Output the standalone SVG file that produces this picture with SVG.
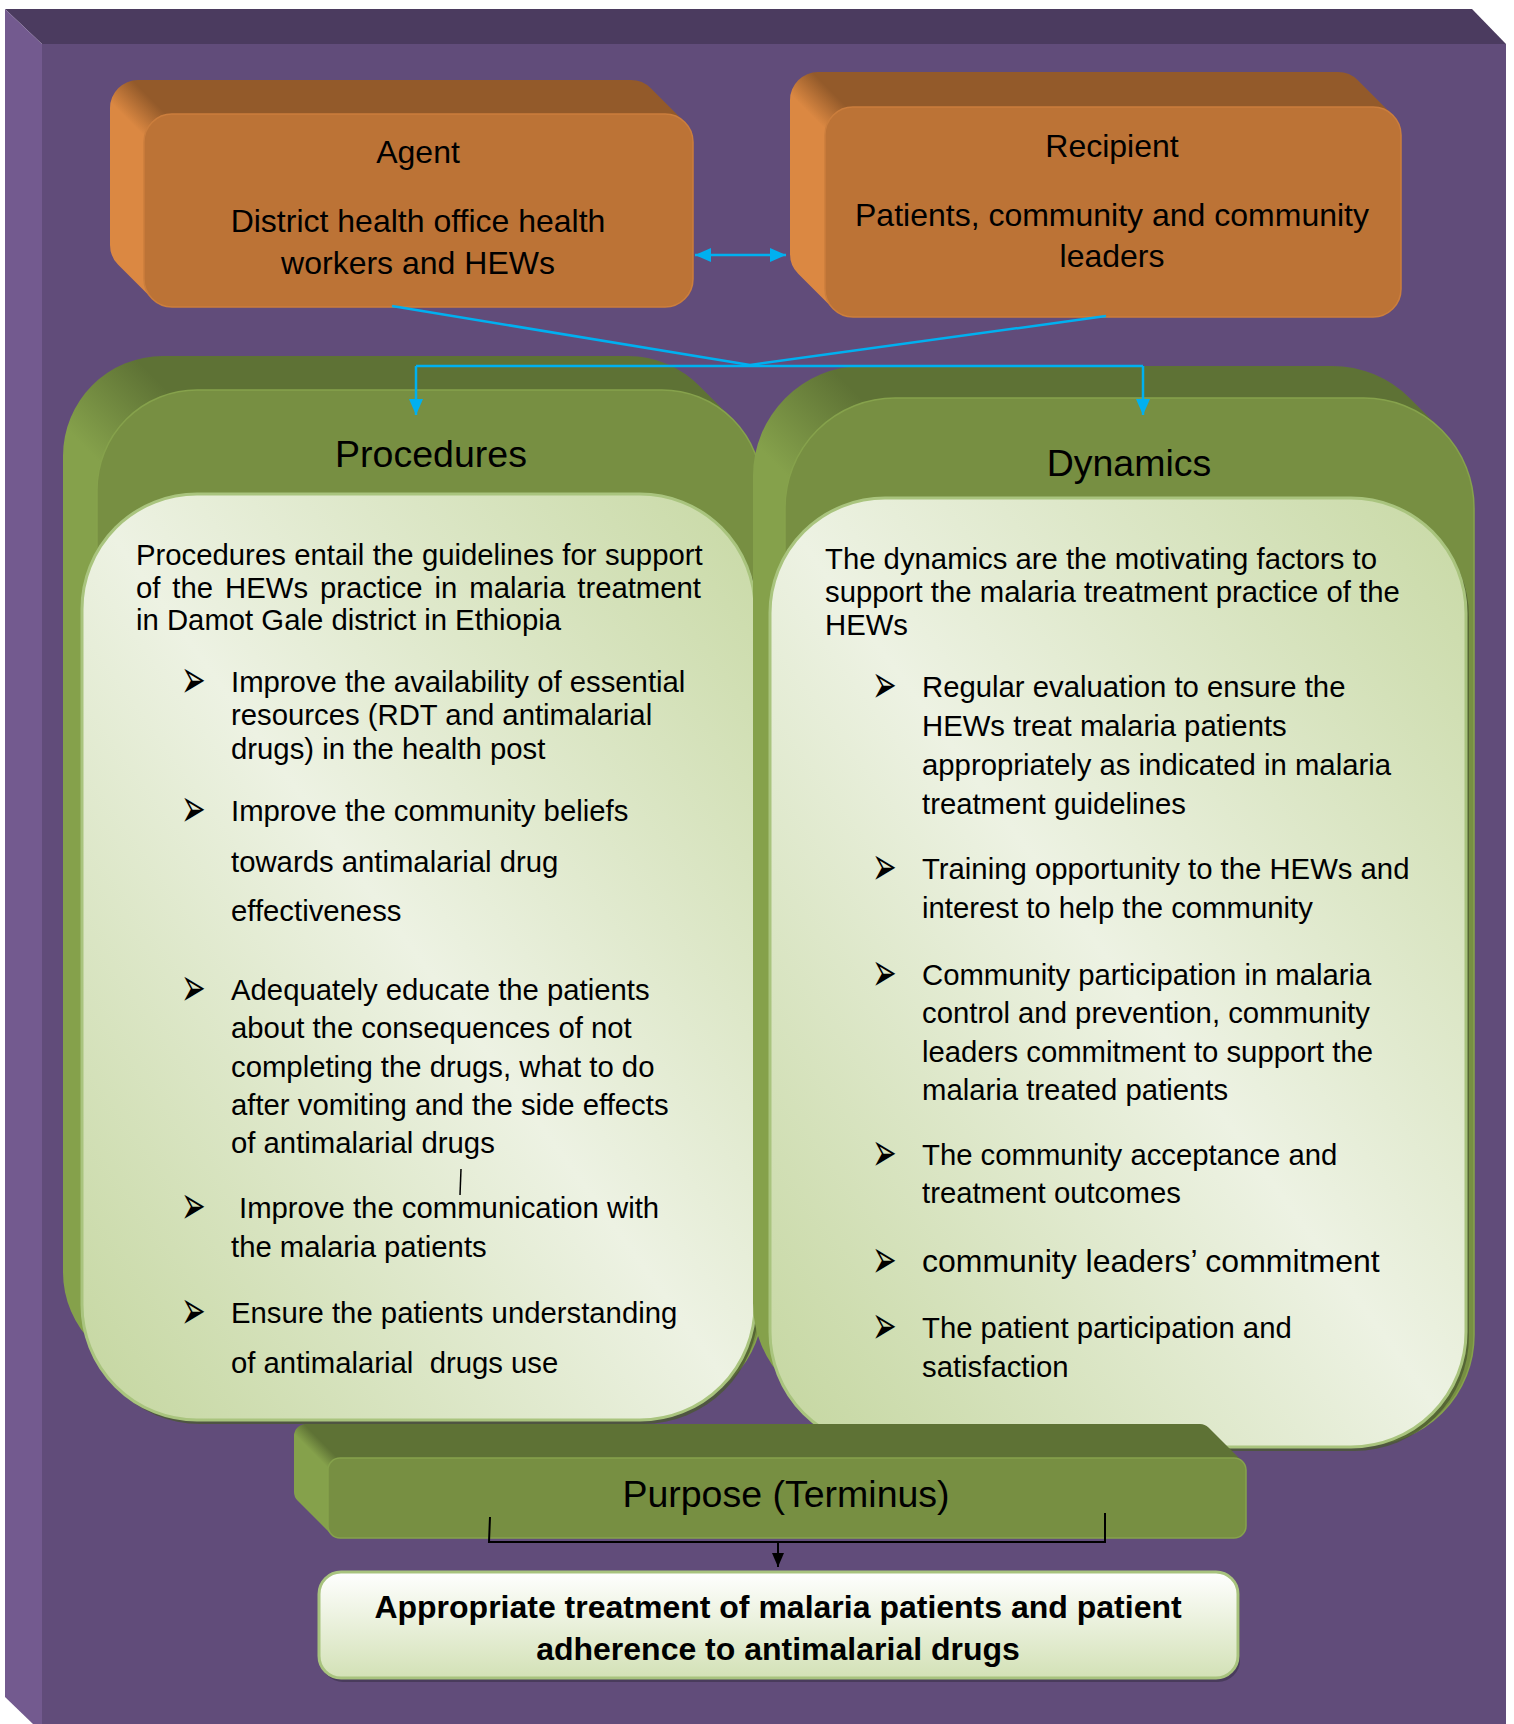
<svg xmlns="http://www.w3.org/2000/svg" width="1514" height="1724" viewBox="0 0 1514 1724">
<style>
.t{font-family:"Liberation Sans",Arial,sans-serif;fill:#000;}
.body{font-size:29.3px;}
.hdr{font-size:37.5px;text-anchor:middle;}
.box{font-size:32px;text-anchor:middle;}
.res{font-size:32px;font-weight:bold;text-anchor:middle;}
.bul{font-family:"DejaVu Sans",sans-serif;font-size:44px;fill:#000;}
.oFront{fill:#BC7336;stroke:#CB7E3D;stroke-width:1.5;}
.gFront{fill:#778F42;stroke:#86A24C;stroke-width:1.5;}
.panel{fill:url(#panelG);stroke:#A9C47E;stroke-width:3;}
.shadow{fill:#4A5830;opacity:0.75;}
.cy{stroke:#00B0F0;stroke-width:2.5;fill:none;}
.bk{stroke:#000;stroke-width:2;fill:none;}
</style>
<defs>
<linearGradient id="gA" gradientUnits="userSpaceOnUse" x1="107.2" y1="99.2" x2="129.2" y2="77.2">
<stop offset="0" stop-color="#DB8842"/><stop offset="1" stop-color="#935A2A"/>
</linearGradient>
<linearGradient id="gR" gradientUnits="userSpaceOnUse" x1="787.2" y1="91.2" x2="809.2" y2="69.2">
<stop offset="0" stop-color="#DB8842"/><stop offset="1" stop-color="#935A2A"/>
</linearGradient>
<linearGradient id="gP" gradientUnits="userSpaceOnUse" x1="57.3" y1="420.3" x2="127.3" y2="350.3">
<stop offset="0" stop-color="#85A14B"/><stop offset="1" stop-color="#5E7235"/>
</linearGradient>
<linearGradient id="gD" gradientUnits="userSpaceOnUse" x1="747.2" y1="436.2" x2="823.2" y2="360.2">
<stop offset="0" stop-color="#85A14B"/><stop offset="1" stop-color="#5E7235"/>
</linearGradient>
<linearGradient id="gU" gradientUnits="userSpaceOnUse" x1="292.5" y1="1432.5" x2="302.5" y2="1422.5">
<stop offset="0" stop-color="#85A14B"/><stop offset="1" stop-color="#5E7235"/>
</linearGradient>
<linearGradient id="panelG" x1="0" y1="1" x2="1" y2="0">
<stop offset="0" stop-color="#C4D69F"/><stop offset="0.5" stop-color="#EDF2E3"/><stop offset="1" stop-color="#C8D9A5"/>
</linearGradient>
<linearGradient id="resG" x1="0" y1="0" x2="0" y2="1">
<stop offset="0" stop-color="#FFFFFF"/><stop offset="1" stop-color="#D3E1B6"/>
</linearGradient>
<marker id="cyHead" viewBox="0 0 16 14" refX="16" refY="7" markerWidth="16" markerHeight="14" markerUnits="userSpaceOnUse" orient="auto-start-reverse">
<path d="M0,0 L16,7 L0,14 z" fill="#00B0F0"/>
</marker>
<marker id="bkHead" viewBox="0 0 14 12" refX="14" refY="6" markerWidth="14" markerHeight="12" markerUnits="userSpaceOnUse" orient="auto">
<path d="M0,0 L14,6 L0,12 z" fill="#000"/>
</marker>
<clipPath id="cpAgent">
<rect x="110" y="80" width="549" height="193" rx="28"/>
<rect x="144" y="114" width="549" height="193" rx="28"/>
<polygon points="650.8,88.2 684.8,122.2 152.2,298.8 118.2,264.8"/>
</clipPath>
<clipPath id="cpRecip">
<rect x="790" y="72" width="576" height="210" rx="28"/>
<rect x="825" y="107" width="576" height="210" rx="28"/>
<polygon points="1357.8,80.2 1392.8,115.2 833.2,308.8 798.2,273.8"/>
</clipPath>
<clipPath id="cpProc">
<rect x="63" y="356" width="665" height="1016" rx="100"/>
<rect x="97" y="390" width="665" height="1016" rx="100"/>
<polygon points="698.7,385.3 732.7,419.3 126.3,1376.7 92.3,1342.7"/>
</clipPath>
<clipPath id="cpDyn">
<rect x="753" y="366" width="689" height="1047" rx="110"/>
<rect x="785" y="398" width="689" height="1047" rx="110"/>
<polygon points="1409.8,398.2 1441.8,430.2 817.2,1412.8 785.2,1380.8"/>
</clipPath>
<clipPath id="cpPurp">
<rect x="294" y="1424" width="918" height="80" rx="12"/>
<rect x="328" y="1458" width="918" height="80" rx="12"/>
<polygon points="1208.5,1427.5 1242.5,1461.5 331.5,1534.5 297.5,1500.5"/>
</clipPath>
</defs>

<rect x="0" y="0" width="1514" height="1724" fill="#FFFFFF"/>
<g id="frame">
<rect x="42" y="44" width="1464" height="1680" fill="#614C7A"/>
<polygon points="5,9 1472,9 1506,44 42,44" fill="#4B3B5F"/>
<polygon points="5,9 42,44 42,1724 33,1724 5,1697" fill="#735A8F"/>
</g>

<g id="agent">
<rect x="100" y="70" width="620" height="260" fill="url(#gA)" clip-path="url(#cpAgent)"/>
<rect x="144" y="114" width="549" height="193" rx="28" class="oFront"/>
<text class="t box" x="418" y="163">Agent</text>
<text class="t box" x="418" y="232">District health office health</text>
<text class="t box" x="418" y="274">workers and HEWs</text>
</g>

<g id="recipient">
<rect x="780" y="60" width="640" height="270" fill="url(#gR)" clip-path="url(#cpRecip)"/>
<rect x="825" y="107" width="576" height="210" rx="28" class="oFront"/>
<text class="t box" x="1112" y="157">Recipient</text>
<text class="t box" x="1112" y="226">Patients, community and community</text>
<text class="t box" x="1112" y="267">leaders</text>
</g>

<g id="procedures">
<rect x="50" y="340" width="730" height="1080" fill="url(#gP)" clip-path="url(#cpProc)"/>
<rect x="97" y="390" width="665" height="1016" rx="100" class="gFront"/>
<text class="t hdr" x="431" y="467">Procedures</text>
<rect x="85" y="498" width="673" height="926" rx="115" class="shadow"/>
<rect x="82" y="494" width="673" height="926" rx="115" class="panel"/>
<text class="t body" x="136" y="565" word-spacing="0.3">Procedures entail the guidelines for support</text>
<text class="t body" x="136" y="598" word-spacing="3.8">of the HEWs practice in malaria treatment</text>
<text class="t body" x="136" y="630">in Damot Gale district in Ethiopia</text>
<text class="bul" transform="translate(181,698) scale(0.67,1.25)">➢</text>
<text class="t body" x="231" y="692">Improve the availability of essential</text>
<text class="t body" x="231" y="725">resources (RDT and antimalarial</text>
<text class="t body" x="231" y="759">drugs) in the health post</text>
<text class="bul" transform="translate(181,827) scale(0.67,1.25)">➢</text>
<text class="t body" x="231" y="821">Improve the community beliefs</text>
<text class="t body" x="231" y="872">towards antimalarial drug</text>
<text class="t body" x="231" y="921">effectiveness</text>
<text class="bul" transform="translate(181,1006) scale(0.67,1.25)">➢</text>
<text class="t body" x="231" y="1000">Adequately educate the patients</text>
<text class="t body" x="231" y="1038">about the consequences of not</text>
<text class="t body" x="231" y="1077">completing the drugs, what to do</text>
<text class="t body" x="231" y="1115">after vomiting and the side effects</text>
<text class="t body" x="231" y="1153">of antimalarial drugs</text>
<text class="bul" transform="translate(181,1224) scale(0.67,1.25)">➢</text>
<text class="t body" x="239" y="1218">Improve the communication with</text>
<text class="t body" x="231" y="1257">the malaria patients</text>
<text class="bul" transform="translate(181,1329) scale(0.67,1.25)">➢</text>
<text class="t body" x="231" y="1323">Ensure the patients understanding</text>
<text class="t body" x="231" y="1373" xml:space="preserve">of antimalarial  drugs use</text>
</g>

<g id="dynamics">
<rect x="740" y="350" width="750" height="1110" fill="url(#gD)" clip-path="url(#cpDyn)"/>
<rect x="785" y="398" width="689" height="1047" rx="110" class="gFront"/>
<text class="t hdr" x="1129" y="476">Dynamics</text>
<rect x="773" y="502" width="696" height="949" rx="115" class="shadow"/>
<rect x="770" y="498" width="696" height="949" rx="115" class="panel"/>
<text class="t body" x="825" y="569">The dynamics are the motivating factors to</text>
<text class="t body" x="825" y="602">support the malaria treatment practice of the</text>
<text class="t body" x="825" y="635">HEWs</text>
<text class="bul" transform="translate(872,703) scale(0.67,1.25)">➢</text>
<text class="t body" x="922" y="697">Regular evaluation to ensure the</text>
<text class="t body" x="922" y="736">HEWs treat malaria patients</text>
<text class="t body" x="922" y="775">appropriately as indicated in malaria</text>
<text class="t body" x="922" y="814">treatment guidelines</text>
<text class="bul" transform="translate(872,885) scale(0.67,1.25)">➢</text>
<text class="t body" x="922" y="879">Training opportunity to the HEWs and</text>
<text class="t body" x="922" y="918">interest to help the community</text>
<text class="bul" transform="translate(872,991) scale(0.67,1.25)">➢</text>
<text class="t body" x="922" y="985">Community participation in malaria</text>
<text class="t body" x="922" y="1023">control and prevention, community</text>
<text class="t body" x="922" y="1062">leaders commitment to support the</text>
<text class="t body" x="922" y="1100">malaria treated patients</text>
<text class="bul" transform="translate(872,1171) scale(0.67,1.25)">➢</text>
<text class="t body" x="922" y="1165">The community acceptance and</text>
<text class="t body" x="922" y="1203">treatment outcomes</text>
<text class="bul" transform="translate(872,1278) scale(0.67,1.25)">➢</text>
<text class="t" x="922" y="1272" font-size="32">community leaders’ commitment</text>
<text class="bul" transform="translate(872,1344) scale(0.67,1.25)">➢</text>
<text class="t body" x="922" y="1338">The patient participation and</text>
<text class="t body" x="922" y="1377">satisfaction</text>
</g>

<g id="purpose">
<rect x="280" y="1410" width="980" height="140" fill="url(#gU)" clip-path="url(#cpPurp)"/>
<rect x="328" y="1458" width="918" height="80" rx="12" class="gFront"/>
<text class="t hdr" x="786" y="1507">Purpose (Terminus)</text>
</g>

<g id="result">
<rect x="321" y="1576" width="919" height="106" rx="22" fill="#3E3450" opacity="0.7"/>
<rect x="319" y="1572" width="919" height="106" rx="22" fill="url(#resG)" stroke="#A8C37E" stroke-width="3"/>
<text class="t res" x="778" y="1618">Appropriate treatment of malaria patients and patient</text>
<text class="t res" x="778" y="1660">adherence to antimalarial drugs</text>
</g>

<g id="connectors">
<line class="cy" x1="695" y1="255" x2="786" y2="255" marker-start="url(#cyHead)" marker-end="url(#cyHead)"/>
<line class="cy" x1="392" y1="306" x2="750" y2="365"/>
<line class="cy" x1="1106" y1="316" x2="750" y2="365"/>
<polyline class="cy" points="416,366 1143,366"/>
<line class="cy" x1="416" y1="366" x2="416" y2="415" marker-end="url(#cyHead)"/>
<line class="cy" x1="1143" y1="366" x2="1143" y2="415" marker-end="url(#cyHead)"/>
<polyline class="bk" points="490,1517 489,1542 1105,1542 1105,1513"/>
<line class="bk" x1="778" y1="1542" x2="778" y2="1567" marker-end="url(#bkHead)"/>
<line x1="461" y1="1169" x2="460" y2="1195" stroke="#000" stroke-width="1.5"/>
</g>
</svg>
